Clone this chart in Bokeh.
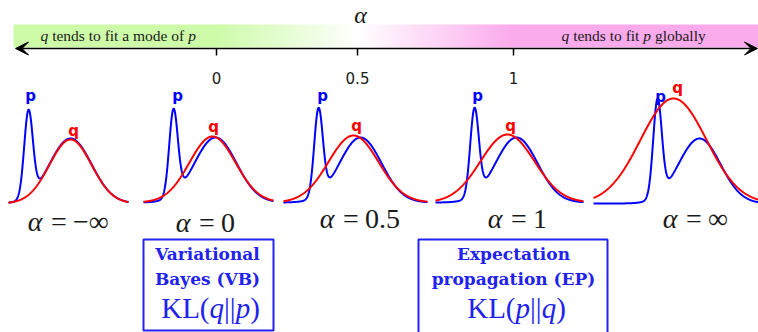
import numpy as np
from bokeh.plotting import figure
from bokeh.models import Range1d, Arrow, VeeHead
from bokeh.core.properties import value
from bokeh.embed import file_html
from bokeh.resources import INLINE

# ---------------- data ----------------
tick_labels = ["0", "0.5", "1"]
panel_alpha = ["−∞", "0", "0.5", "1", "∞"]
# p : narrow mode + broad mode (same p in every panel)
p_spike_height = [85, 85, 86, 86, 96]
p_spike_sd = 4.3
p_broad_offset = 42
p_broad_sd = 21
p_broad_height = 65
# q : single gaussian fitted for each alpha
q_offset = [42, 39, 35, 33, 16]
q_sd = [21, 23, 25, 27, 33]
q_height = [64, 66, 67, 68, 105]
left_caption = [("q", "italic"), (" tends to fit a mode of ", "normal"), ("p", "italic")]
right_caption = [("q", "italic"), (" tends to fit ", "normal"), ("p", "italic"), (" globally", "normal")]
vb_lines = ["Variational", "Bayes (VB)"]
ep_lines = ["Expectation", "propagation (EP)"]
vb_kl = [("KL(", "normal"), ("q", "italic"), ("||", "normal"), ("p", "italic"), (")", "normal")]
ep_kl = [("KL(", "normal"), ("p", "italic"), ("||", "normal"), ("q", "italic"), (")", "normal")]

# ---------------- layout ----------------
W, H = 758, 332
tick_x = [216, 357, 513]
axis_y = 48
spike_x = [28, 173, 318, 474, 657]
panel_left = [8, 143, 283, 435, 593]
panel_right = [128, 273, 427, 583, 758]
baseline = [203, 202, 202, 202, 203]
eq_x = [58.5, 206.5, 350.5, 518.5, 693.5]
eq_y = [221, 222, 218, 218, 218]
p_label = [(30, 95), (177, 95), (322, 95), (477, 95), (660, 96)]
q_label = [(73, 130), (213, 126), (356, 125), (510, 125), (677, 87)]

BLUE = "#0000ff"
RED = "#ff0000"
BOXBLUE = "#2222ee"
GREEN = (205, 251, 168)
PINK = (251, 170, 236)
TXT = "#1a1a1a"

fig = figure(width=W, height=H, x_range=Range1d(0, W), y_range=Range1d(H, 0),
             output_backend="svg", toolbar_location=None, min_border=0)
fig.axis.visible = False
fig.xgrid.visible = False
fig.ygrid.visible = False
fig.outline_line_color = None
fig.background_fill_color = "white"

# ---- gradient band ----
def hexc(c):
    return "#%02x%02x%02x" % tuple(int(round(v)) for v in c)

band_top, band_bot = 24, 47
fig.quad(left=[13], right=[tick_x[0] + 0.5], top=[band_top], bottom=[band_bot],
         fill_color=hexc(GREEN), line_color=None)
fig.quad(left=[tick_x[2]], right=[W], top=[band_top], bottom=[band_bot],
         fill_color=hexc(PINK), line_color=None)
n = 150
edges = np.linspace(tick_x[0], tick_x[2], n + 1)
cols = []
for i in range(n):
    xm = 0.5 * (edges[i] + edges[i + 1])
    if xm < tick_x[1]:
        t = (xm - tick_x[0]) / (tick_x[1] - tick_x[0])
        c = [g + (255 - g) * t for g in GREEN]
    else:
        t = (xm - tick_x[1]) / (tick_x[2] - tick_x[1])
        c = [255 + (pk - 255) * t for pk in PINK]
    cols.append(hexc(c))
fig.quad(left=edges[:-1], right=edges[1:] + 0.6, top=band_top, bottom=band_bot,
         fill_color=cols, line_color=None)

# ---- axis arrow ----
fig.add_layout(Arrow(start=VeeHead(size=13, fill_color="black", line_color="black", line_width=1),
                     end=VeeHead(size=13, fill_color="black", line_color="black", line_width=1),
                     x_start=15, y_start=axis_y, x_end=757, y_end=axis_y,
                     line_color="black", line_width=1.6))
fig.segment(x0=tick_x, y0=axis_y, x1=tick_x, y1=axis_y + 7, line_color="black", line_width=1.5)
fig.text(x=tick_x, y=[77] * 3, text=tick_labels, text_font=value("DejaVu Sans"),
         text_font_size="15px", text_align="center", text_baseline="middle", text_color=TXT)
fig.text(x=[360], y=[14], text=["α"], text_font=value("Liberation Serif"), text_font_style="italic",
         text_font_size="24px", text_align="center", text_baseline="middle", text_color=TXT)

# ---- text segments helper (Times-like metrics) ----
WID = {' ': .25, 't': .278, 'e': .444, 'n': .5, 'd': .5, 's': .389, 'o': .5, 'f': .333, 'i': .278,
       'a': .444, 'm': .778, 'g': .5, 'l': .278, 'b': .5, 'y': .5, 'q': .5, 'p': .5,
       'K': .722, 'L': .611, '(': .333, ')': .333, '|': .2}

def seg_width(s, size):
    return sum(WID.get(ch, .5) for ch in s) * size

def draw_segments(x0, y, segs, size, color, font="Liberation Serif"):
    x = x0
    for s, style in segs:
        lead = len(s) - len(s.lstrip(" "))
        core = s.strip(" ")
        fig.text(x=[x + seg_width(" " * lead, size)], y=[y], text=[core], text_font=value(font),
                 text_font_style=style, text_font_size=f"{size}px", text_align="left",
                 text_baseline="middle", text_color=color)
        x += seg_width(s, size)

draw_segments(40, 35, left_caption, 15.5, TXT)
draw_segments(561, 35, right_caption, 15.5, TXT)

# ---- panels ----
for k in range(5):
    x = np.linspace(panel_left[k], panel_right[k], 400)
    s = spike_x[k]
    pv = (p_spike_height[k] * np.exp(-0.5 * ((x - s) / p_spike_sd) ** 2)
          + p_broad_height * np.exp(-0.5 * ((x - s - p_broad_offset) / p_broad_sd) ** 2))
    qv = q_height[k] * np.exp(-0.5 * ((x - s - q_offset[k]) / q_sd[k]) ** 2)
    fig.line(x, baseline[k] - pv, line_color=BLUE, line_width=2)
    fig.line(x, baseline[k] - qv, line_color=RED, line_width=2)
    fig.text(x=[p_label[k][0]], y=[p_label[k][1]], text=["p"], text_font=value("DejaVu Sans"),
             text_font_style="bold", text_font_size="15px", text_align="center",
             text_baseline="middle", text_color=BLUE)
    fig.text(x=[q_label[k][0]], y=[q_label[k][1]], text=["q"], text_font=value("DejaVu Sans"),
             text_font_style="bold", text_font_size="15px", text_align="center",
             text_baseline="middle", text_color=RED)
    # alpha label
    fig.text(x=[eq_x[k] - 24], y=[eq_y[k]], text=["α"], text_font=value("Liberation Serif"),
             text_font_style="italic", text_font_size="28px", text_align="center",
             text_baseline="middle", text_color=TXT)
    fig.text(x=[eq_x[k]], y=[eq_y[k]], text=["="], text_font=value("Liberation Serif"),
             text_font_size="28px", text_align="center", text_baseline="middle", text_color=TXT)
    fig.text(x=[eq_x[k] + 14], y=[eq_y[k]], text=[panel_alpha[k]], text_font=value("Liberation Serif"),
             text_font_size="28px", text_align="left", text_baseline="middle", text_color=TXT)

# ---- boxes ----
fig.quad(left=[143, 418], right=[273, 607], top=[239, 239], bottom=[330, 335],
         fill_color=None, line_color=BOXBLUE, line_width=2)
for cx, lines, kl in [(207, vb_lines, vb_kl), (513, ep_lines, ep_kl)]:
    fig.text(x=[cx, cx], y=[253, 278], text=lines, text_font=value("DejaVu Serif"),
             text_font_style="bold", text_font_size="17px", text_align="center",
             text_baseline="middle", text_color=BOXBLUE)
    total = sum(seg_width(s, 29) for s, _ in kl)
    draw_segments(cx + 3 - total / 2, 307, kl, 29, BOXBLUE)

open("out.html", "w").write(file_html(fig, INLINE))
